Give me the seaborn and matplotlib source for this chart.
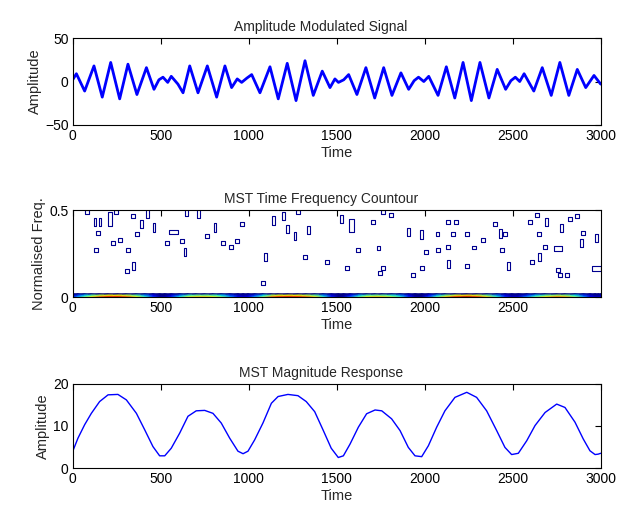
import numpy as np
import matplotlib
matplotlib.use("Agg")
import matplotlib.pyplot as plt
import seaborn as sns

# ---------------- data ----------------
sig_time = [0, 21, 68, 121, 168, 216, 267, 314, 365, 419, 462, 490, 513, 540, 560, 598,
            627, 665, 712, 765, 818, 865, 903, 935, 960, 990, 1017, 1064, 1121, 1168,
            1219, 1269, 1320, 1367, 1418, 1462, 1490, 1510, 1540, 1568, 1615, 1666, 1716,
            1767, 1814, 1865, 1909, 1940, 1965, 1995, 2023, 2076, 2123, 2171, 2218, 2265,
            2314, 2365, 2412, 2460, 2490, 2515, 2540, 2565, 2620, 2668, 2719, 2768, 2819,
            2867, 2915, 2962, 3000]
sig_amp = [2, 9, -11, 18, -18, 22, -20, 20, -15, 16, -9, 2, 5, -1, 6, -3,
           -13, 18, -13, 18, -18, 18, -7, 3, -1, 4, 8, -13, 17, -20,
           21, -22, 24, -16, 12, -7, 3, -1, 2, 8, -15, 16, -19,
           16, -16, 10, -9, 1, 5, 0, 6, -16, 17, -19, 22, -22,
           22, -19, 14, -9, 1, 5, 0, 9, -11, 16, -16, 22, -16,
           14, -7, 7, -3]

mag_time = [0, 30, 68, 106, 153, 201, 257, 305, 362, 409, 456, 494, 523, 560, 608, 655,
            702, 750, 797, 844, 892, 939, 968, 996, 1034, 1081, 1129, 1167, 1223, 1280,
            1327, 1375, 1422, 1469, 1509, 1538, 1576, 1623, 1670, 1718, 1756, 1812, 1860,
            1907, 1945, 1983, 2021, 2068, 2115, 2172, 2239, 2295, 2352, 2409, 2456, 2494,
            2532, 2580, 2627, 2684, 2750, 2797, 2854, 2901, 2939, 2968, 2986, 3000]
mag_amp = [3.95, 7.1, 10.3, 13.0, 15.8, 17.4, 17.5, 16.2, 13.0, 9.1, 5.1, 2.9, 2.9, 4.7, 8.3, 12.3,
           13.6, 13.7, 13.0, 10.7, 7.1, 4.0, 3.4, 4.0, 6.7, 10.7, 15.4, 17.0, 17.5, 17.2,
           15.8, 13.4, 9.1, 4.7, 2.5, 2.9, 5.7, 9.7, 12.9, 13.8, 13.6, 11.7, 8.9,
           4.9, 2.9, 2.7, 5.3, 9.7, 13.6, 16.8, 18.0, 16.8, 13.6, 8.9, 4.9, 3.2,
           3.5, 6.5, 10.1, 13.2, 15.2, 14.4, 10.9, 6.9, 4.1, 3.2, 3.3, 3.5]

blob_time = [13, 79, 127, 155, 212, 244, 146, 64, 229, 269, 132, 316, 307, 345, 345, 392, 364,
             424, 462, 572, 600, 572, 538, 619, 638, 648, 714, 761, 808, 856, 900, 932, 960,
             1017, 1083, 1093, 1131, 1140, 1197, 1222, 1263, 1282, 1339, 1320, 1443,
             1528, 1585, 1708, 1764, 1807, 1841, 1907, 1954, 1983, 2072, 2134, 2134, 2178,
             2159, 2239, 2314, 2330, 2399, 2428, 2456, 2598, 2636, 2693, 2651, 2778, 2826,
             2864, 2949, 2901, 2977, 2892, 1623, 1737, 2007, 2077, 2134, 2280, 2437, 2684,
             2756, 2651, 2608, 2475, 2134, 1983, 1932, 1765, 1557, 1746, 2759, 2768, 2806,
             2977, 2239]
blob_freq = [0.433, 0.49, 0.43, 0.43, 0.448, 0.49, 0.37, 0.33, 0.31, 0.33, 0.27, 0.27, 0.15, 0.18,
             0.466, 0.42, 0.36, 0.48, 0.40, 0.46, 0.41, 0.375, 0.31, 0.32, 0.26, 0.49, 0.48,
             0.35, 0.40, 0.31, 0.29, 0.32, 0.42, 0.466, 0.08, 0.23, 0.28, 0.44, 0.466, 0.39,
             0.35, 0.49, 0.385, 0.23, 0.2,
             0.45, 0.41, 0.43, 0.49, 0.47, 0.43, 0.375, 0.47, 0.36, 0.36, 0.46, 0.43, 0.43,
             0.36, 0.365, 0.44, 0.33, 0.42, 0.365, 0.365, 0.43, 0.47, 0.43, 0.365, 0.395, 0.45,
             0.466, 0.43, 0.37, 0.34, 0.31, 0.27, 0.28, 0.26, 0.27, 0.29, 0.285, 0.27, 0.29,
             0.28, 0.23, 0.2, 0.18, 0.19, 0.165, 0.13, 0.17, 0.165, 0.14, 0.155, 0.125, 0.13,
             0.165, 0.18]
blob_kind = ['l', 's', 'r', 'r', 'R', 's', 's', 'l', 's', 's', 's', 's', 's', 'r', 's', 'r', 's',
             'r', 'r', 'l', 'l', 'w', 's', 's', 'r', 'r', 'r', 's', 'r', 's', 's', 's', 's',
             'l', 's', 'r', 'l', 'r', 'r', 'r', 'r', 's', 'r', 's', 's',
             'r', 'R', 's', 's', 's', 'l', 'r', 'l', 'r', 's', 'l', 's', 's',
             's', 's', 'L', 's', 's', 'r', 's', 's', 's', 'r', 's', 'r', 's',
             's', 'L', 's', 'r', 'r', 's', 's', 's', 's', 's', 's', 's', 's',
             'w', 'r', 's', 'r', 'r', 's', 's', 's', 's', 's', 's', 's', 's',
             'w', 's']

band_edges = [0.0, 0.004, 0.012, 0.02]
band_weight = [0.85, 1.0, 0.75, 0.0]

# ---------------- style ----------------
sns.set_style("white")
plt.rcParams['font.family'] = ['Liberation Sans', 'DejaVu Sans']
plt.rcParams['font.size'] = 10
plt.rcParams['axes.linewidth'] = 0.8

fig = plt.figure(figsize=(6.25, 5.16), dpi=100)
left, width = 0.1163, 0.8448
ax1 = fig.add_axes([left, 0.758, width, 0.168])
ax2 = fig.add_axes([left, 0.424, width, 0.169])
ax3 = fig.add_axes([left, 0.093, width, 0.163])

def style(ax):
    ax.tick_params(direction='in', top=True, right=True, length=4, width=0.8,
                   labelsize=10, colors='black', pad=3)
    for s in ax.spines.values():
        s.set_color('black')
        s.set_visible(True)

# top: AM signal
sns.lineplot(x=sig_time, y=sig_amp, ax=ax1, color='#0000ff', linewidth=2.0)
ax1.set_xlim(0, 3000)
ax1.set_ylim(-50, 50)
ax1.set_xticks(range(0, 3001, 500))
ax1.set_yticks([-50, 0, 50])
ax1.set_title('Amplitude Modulated Signal', fontsize=10, pad=5, x=0.47)
ax1.set_xlabel('Time', fontsize=10.5, labelpad=2)
ax1.set_ylabel('Amplitude', fontsize=10.5, labelpad=2)
style(ax1)

# middle: time-frequency contour
mag = np.array(mag_amp)
C = np.array([mag * w for w in band_weight])
X, Y = np.meshgrid(mag_time, band_edges)
ax2.pcolormesh(X, Y, C, cmap='jet', vmin=2, vmax=19, shading='gouraud', zorder=1)

tall = [(-0.35, -1), (0.35, -1), (0.35, 1), (-0.35, 1), (-0.35, -1)]
wide = [(-1, -0.5), (1, -0.5), (1, 0.5), (-1, 0.5), (-1, -0.5)]
kinds = {'s': ('s', 8), 'r': (tall, 35), 'R': (tall, 90), 'l': ('|', 35),
         'L': ('|', 110), 'w': (wide, 40)}
bt = np.array(blob_time); bf = np.array(blob_freq); bk = np.array(blob_kind)
for k, (mk, sz) in kinds.items():
    m = bk == k
    if m.any():
        ax2.scatter(bt[m], bf[m], marker=mk, s=sz, facecolors='none',
                    edgecolors='#00008f', linewidths=0.8, zorder=2)
ax2.set_xlim(0, 2999)
ax2.set_ylim(0, 0.5)
ax2.set_xticks(range(0, 2501, 500))
ax2.set_yticks([0, 0.5])
ax2.set_yticklabels(['0', '0.5'])
ax2.set_title('MST Time Frequency Countour', fontsize=10, pad=5, x=0.47)
ax2.set_xlabel('Time', fontsize=10.5, labelpad=2)
ax2.set_ylabel('Normalised Freq.', fontsize=10.5, labelpad=2)
style(ax2)

# bottom: magnitude response
sns.lineplot(x=mag_time, y=mag_amp, ax=ax3, color='#0000ff', linewidth=1.0)
ax3.set_xlim(0, 3000)
ax3.set_ylim(0, 20)
ax3.set_xticks(range(0, 3001, 500))
ax3.set_yticks([0, 10, 20])
ax3.set_title('MST Magnitude Response', fontsize=10, pad=5, x=0.47)
ax3.set_xlabel('Time', fontsize=10.5, labelpad=2)
ax3.set_ylabel('Amplitude', fontsize=10.5, labelpad=2)
style(ax3)

fig.savefig('out.png', dpi=100)
